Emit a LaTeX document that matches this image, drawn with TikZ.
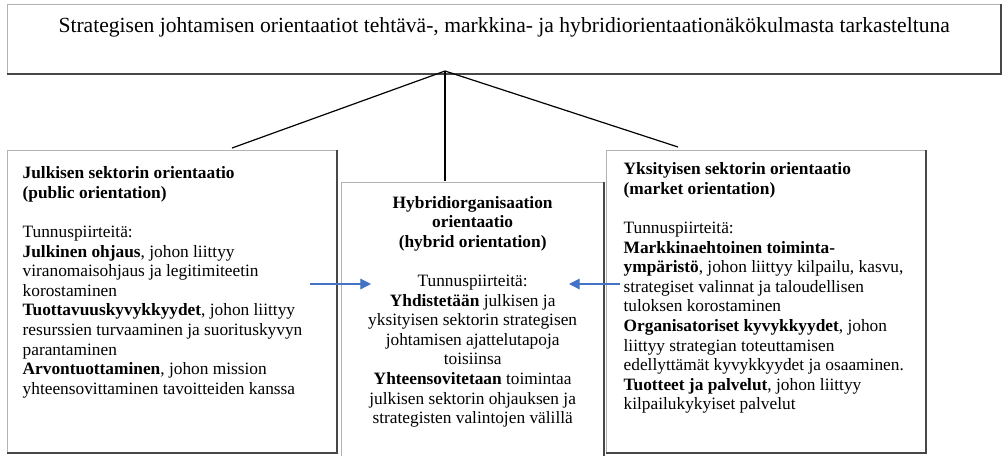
\documentclass[tikz,border=0pt]{standalone}
\usepackage{fontspec}
\setmainfont{Liberation Serif}
\usetikzlibrary{arrows.meta, positioning}
\definecolor{arrowblue}{RGB}{68,114,196}
\tikzset{
    orbox/.style={draw=gray!60, line width=1pt, fill=white, anchor=north west},
    shadeline/.style={draw=black!72, line width=1.7pt},
    branch/.style={black, line width=0.9pt},
    flowarrow/.style={-{Triangle[length=8pt,width=8pt]}, arrowblue, line width=0.9pt}
}
\newcommand{\boxtext}[3]{\parbox[c][#1][t]{#2}{\fontsize{13pt}{14.7pt}\selectfont #3}}

\begin{document}
\begin{tikzpicture}[x=0.75pt,y=-0.75pt]
    \useasboundingbox (0,0) rectangle (1002,455);

    % Title
    \node[orbox, inner xsep=4pt, inner ysep=10pt] (title) at (7,4)
        {\parbox[c][31.75pt][t]{736.75pt}{\centering\fontsize{16.2pt}{19pt}\selectfont
        Strategisen johtamisen orientaatiot tehtävä-, markkina- ja hybridiorientaationäkökulmasta tarkasteltuna}};

    % Public orientation
    \node[orbox, inner xsep=11.25pt, inner ysep=12pt] (public) at (7,150)
        {\boxtext{202.5pt}{224.25pt}{\raggedright
        \textbf{Julkisen sektorin orientaatio}\\
        \textbf{(public orientation)}\\[14.7pt]
        Tunnuspiirteitä:\\
        \textbf{Julkinen ohjaus}, johon liittyy\\
        viranomaisohjaus ja legitimiteetin\\
        korostaminen\\
        \textbf{Tuottavuuskyvykkyydet}, johon liittyy\\
        resurssien turvaaminen ja suorituskyvyn\\
        parantaminen\\
        \textbf{Arvontuottaminen}, johon mission\\
        yhteensovittaminen tavoitteiden kanssa}};

    % Hybrid orientation
    \node[orbox, inner xsep=6pt, inner ysep=10pt] (hybrid) at (341,182)
        {\boxtext{188.5pt}{184.5pt}{\centering
        \textbf{Hybridiorganisaation}\\
        \textbf{orientaatio}\\
        \textbf{(hybrid orientation)}\\[14.7pt]
        Tunnuspiirteitä:\\
        \textbf{Yhdistetään} julkisen ja\\
        yksityisen sektorin strategisen\\
        johtamisen ajattelutapoja\\
        toisiinsa\\
        \textbf{Yhteensovitetaan} toimintaa\\
        julkisen sektorin ohjauksen ja\\
        strategisten valintojen välillä}};

    % Market orientation
    \node[orbox, inner xsep=12.75pt, inner ysep=9pt] (market) at (606,150)
        {\boxtext{208.5pt}{213.75pt}{\raggedright
        \textbf{Yksityisen sektorin orientaatio}\\
        \textbf{(market orientation)}\\[14.7pt]
        Tunnuspiirteitä:\\
        \textbf{Markkinaehtoinen toiminta-}\\
        \textbf{ympäristö}, johon liittyy kilpailu, kasvu,\\
        strategiset valinnat ja taloudellisen\\
        tuloksen korostaminen\\
        \textbf{Organisatoriset kyvykkyydet}, johon\\
        liittyy strategian toteuttamisen\\
        edellyttämät kyvykkyydet ja osaaminen.\\
        \textbf{Tuotteet ja palvelut}, johon liittyy\\
        kilpailukykyiset palvelut}};

    % Darker right and bottom edges
    \foreach \b in {title,public,hybrid,market}
        \draw[shadeline] (\b.north east) -- (\b.south east) -- (\b.south west);

    % Branches from the title
    \coordinate (apex) at (445,71);
    \coordinate (publink) at (232,148);
    \coordinate (hyblink) at (445,181);
    \coordinate (marklink) at (678,147);
    \draw[branch] (apex) -- (publink);
    \draw[branch] (apex) -- (hyblink);
    \draw[branch] (apex) -- (marklink);

    % Arrows into the hybrid box
    \coordinate (pubfrom) at (310,284);
    \coordinate (pubto) at (371,284);
    \coordinate (markfrom) at (620,284);
    \coordinate (markto) at (569,284);
    \draw[flowarrow] (pubfrom) -- (pubto);
    \draw[flowarrow] (markfrom) -- (markto);

\end{tikzpicture}
\end{document}
